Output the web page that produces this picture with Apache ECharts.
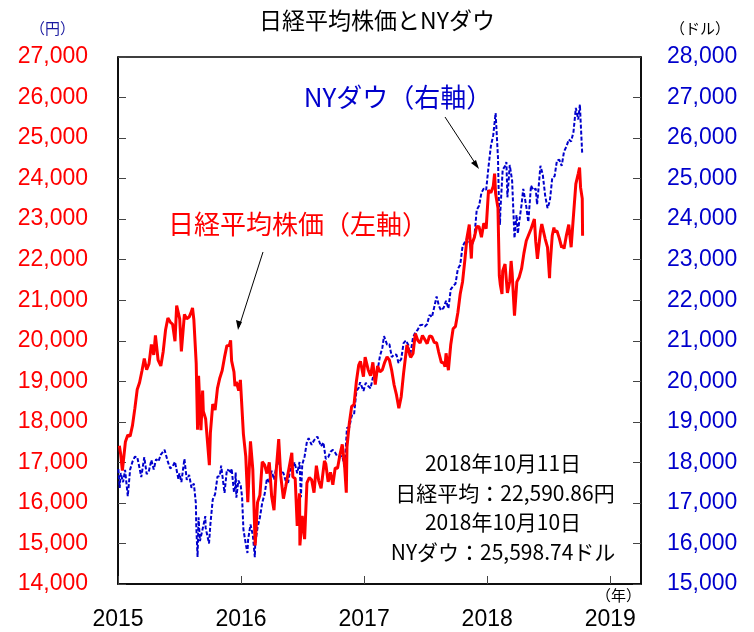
<!DOCTYPE html>
<html><head><meta charset="utf-8">
<script src="https://cdn.jsdelivr.net/npm/echarts@6/dist/echarts.min.js"></script>
<style>html,body{margin:0;padding:0;background:#fff}#c{width:754px;height:632px}</style>
</head><body><div id="c"></div>
<script>
// ---- Data ----
const nikkeiDates = ["2015-01-05","2015-01-09","2015-01-14","2015-01-23","2015-01-30","2015-02-06","2015-02-13","2015-02-20","2015-02-27","2015-03-06","2015-03-13","2015-03-20","2015-03-27","2015-04-03","2015-04-10","2015-04-17","2015-04-22","2015-04-30","2015-05-08","2015-05-15","2015-05-22","2015-05-29","2015-06-05","2015-06-12","2015-06-19","2015-06-24","2015-07-03","2015-07-08","2015-07-17","2015-07-24","2015-07-31","2015-08-07","2015-08-10","2015-08-14","2015-08-21","2015-08-25","2015-08-28","2015-09-04","2015-09-09","2015-09-11","2015-09-18","2015-09-29","2015-10-02","2015-10-09","2015-10-16","2015-10-23","2015-10-30","2015-11-06","2015-11-13","2015-11-20","2015-11-27","2015-12-01","2015-12-04","2015-12-11","2015-12-14","2015-12-18","2015-12-25","2015-12-30",
"2016-01-08","2016-01-15","2016-01-21","2016-01-29","2016-02-05","2016-02-12","2016-02-19","2016-02-26","2016-03-04","2016-03-11","2016-03-18","2016-03-25","2016-04-01","2016-04-08","2016-04-15","2016-04-22","2016-04-28","2016-05-06","2016-05-13","2016-05-20","2016-05-31","2016-06-03","2016-06-10","2016-06-16","2016-06-23","2016-06-24","2016-07-01","2016-07-08","2016-07-15","2016-07-22","2016-07-29","2016-08-05","2016-08-12","2016-08-19","2016-08-26","2016-09-05","2016-09-09","2016-09-16","2016-09-23","2016-09-30","2016-10-07","2016-10-14","2016-10-21","2016-10-28","2016-11-04","2016-11-09","2016-11-11","2016-11-18","2016-11-25","2016-12-02","2016-12-09","2016-12-16","2016-12-21","2016-12-30",
"2017-01-04","2017-01-13","2017-01-20","2017-01-27","2017-02-03","2017-02-10","2017-02-17","2017-02-24","2017-03-03","2017-03-10","2017-03-17","2017-03-24","2017-03-31","2017-04-07","2017-04-14","2017-04-17","2017-04-21","2017-04-28","2017-05-08","2017-05-12","2017-05-19","2017-05-26","2017-06-02","2017-06-09","2017-06-16","2017-06-23","2017-06-30","2017-07-07","2017-07-14","2017-07-21","2017-07-28","2017-08-04","2017-08-10","2017-08-18","2017-08-25","2017-08-29","2017-09-01","2017-09-08","2017-09-15","2017-09-22","2017-09-29","2017-10-06","2017-10-13","2017-10-20","2017-10-27","2017-11-02","2017-11-09","2017-11-10","2017-11-15","2017-11-17","2017-11-24","2017-12-01","2017-12-08","2017-12-15","2017-12-22","2017-12-29",
"2018-01-05","2018-01-12","2018-01-19","2018-01-23","2018-01-26","2018-02-02","2018-02-06","2018-02-09","2018-02-14","2018-02-16","2018-02-23","2018-03-02","2018-03-09","2018-03-13","2018-03-16","2018-03-23","2018-03-30","2018-04-06","2018-04-13","2018-04-20","2018-04-27","2018-05-02","2018-05-11","2018-05-18","2018-05-21","2018-05-25","2018-05-30","2018-06-01","2018-06-08","2018-06-12","2018-06-15","2018-06-22","2018-06-29","2018-07-05","2018-07-06","2018-07-13","2018-07-18","2018-07-20","2018-07-27","2018-08-03","2018-08-10","2018-08-14","2018-08-17","2018-08-24","2018-08-31","2018-09-07","2018-09-14","2018-09-21","2018-09-28","2018-10-02","2018-10-05","2018-10-10","2018-10-11"];
const nikkeiValues = [17408,17198,16795,17511,17674,17648,17913,18332,18798,18971,19254,19560,19286,19435,19908,19653,20133,19520,19379,19732,20264,20563,20461,20407,19990,20868,20539,19737,20650,20544,20585,20724,20808,20519,19435,17806,19136,17792,18770,18264,18070,16930,17725,18438,18291,18825,19083,19265,19596,19879,19883,20012,19504,19230,18883,18986,18769,19034,
17698,17147,16017,17518,16820,14953,16014,16188,17015,16938,16725,17002,16164,15821,16848,17572,16666,16106,16412,16736,17235,16642,16601,15434,16238,14952,15682,15106,16497,16627,16569,16254,16919,16545,16360,17037,16965,16519,16754,16449,16860,16856,17184,17446,16905,16251,17374,17968,18381,18426,18996,19401,19494,19114,
19594,19287,19137,19467,18918,19378,19234,19283,19469,19605,19522,19262,18909,18664,18335,18355,18620,19196,19895,19883,19590,19686,20177,20013,19943,20132,20033,19929,20118,20099,19959,19952,19729,19470,19452,19362,19691,19274,19909,20296,20356,20690,21155,21457,22008,22539,22868,22681,22028,22397,22550,22819,22811,22553,22902,22765,
23714,23653,23808,24124,23631,23274,21610,21383,21154,21720,21892,21182,21469,21968,21676,20617,21454,21568,21778,22162,22467,22508,22758,22930,23002,22450,22018,22171,22694,22878,22851,22516,22304,21546,21788,22597,22794,22697,22712,22525,22298,22356,22270,22601,22865,22307,23094,23869,24120,24270,23783,23506,22590.86];

const dowDates = ["2015-01-02","2015-01-06","2015-01-09","2015-01-16","2015-01-22","2015-01-30","2015-02-06","2015-02-13","2015-02-20","2015-02-27","2015-03-06","2015-03-11","2015-03-13","2015-03-20","2015-03-27","2015-04-02","2015-04-10","2015-04-17","2015-04-24","2015-05-01","2015-05-08","2015-05-19","2015-05-29","2015-06-05","2015-06-12","2015-06-19","2015-06-29","2015-07-02","2015-07-08","2015-07-17","2015-07-24","2015-07-31","2015-08-07","2015-08-14","2015-08-20","2015-08-21","2015-08-25","2015-08-28","2015-09-01","2015-09-04","2015-09-11","2015-09-17","2015-09-18","2015-09-28","2015-10-02","2015-10-09","2015-10-16","2015-10-23","2015-10-30","2015-11-03","2015-11-06","2015-11-13","2015-11-20","2015-11-27","2015-12-02","2015-12-04","2015-12-11","2015-12-14","2015-12-16","2015-12-18","2015-12-24","2015-12-31",
"2016-01-04","2016-01-08","2016-01-15","2016-01-20","2016-01-22","2016-01-29","2016-02-05","2016-02-11","2016-02-12","2016-02-19","2016-02-26","2016-03-04","2016-03-11","2016-03-18","2016-03-24","2016-04-01","2016-04-08","2016-04-15","2016-04-20","2016-04-29","2016-05-06","2016-05-13","2016-05-20","2016-05-27","2016-06-03","2016-06-08","2016-06-16","2016-06-23","2016-06-27","2016-07-01","2016-07-08","2016-07-15","2016-07-20","2016-07-29","2016-08-05","2016-08-15","2016-08-26","2016-09-02","2016-09-09","2016-09-16","2016-09-23","2016-09-30","2016-10-07","2016-10-14","2016-10-21","2016-10-28","2016-11-04","2016-11-11","2016-11-18","2016-11-25","2016-12-02","2016-12-09","2016-12-16","2016-12-20","2016-12-30",
"2017-01-06","2017-01-13","2017-01-20","2017-01-27","2017-02-03","2017-02-10","2017-02-17","2017-02-24","2017-03-01","2017-03-10","2017-03-17","2017-03-24","2017-03-31","2017-04-07","2017-04-13","2017-04-21","2017-04-28","2017-05-05","2017-05-12","2017-05-17","2017-05-26","2017-06-02","2017-06-09","2017-06-16","2017-06-23","2017-06-30","2017-07-07","2017-07-14","2017-07-21","2017-07-28","2017-08-04","2017-08-08","2017-08-11","2017-08-17","2017-08-25","2017-09-01","2017-09-08","2017-09-15","2017-09-22","2017-09-29","2017-10-06","2017-10-13","2017-10-20","2017-10-27","2017-11-03","2017-11-10","2017-11-17","2017-11-24","2017-12-01","2017-12-08","2017-12-15","2017-12-22","2017-12-29",
"2018-01-05","2018-01-12","2018-01-19","2018-01-26","2018-02-02","2018-02-05","2018-02-08","2018-02-09","2018-02-16","2018-02-23","2018-02-27","2018-03-02","2018-03-09","2018-03-16","2018-03-23","2018-03-29","2018-04-02","2018-04-06","2018-04-13","2018-04-18","2018-04-27","2018-05-03","2018-05-11","2018-05-18","2018-05-25","2018-05-29","2018-06-01","2018-06-08","2018-06-15","2018-06-22","2018-06-29","2018-07-06","2018-07-13","2018-07-20","2018-07-27","2018-08-03","2018-08-10","2018-08-17","2018-08-24","2018-08-31","2018-09-07","2018-09-14","2018-09-21","2018-09-28","2018-10-03","2018-10-05","2018-10-09","2018-10-10"];
const dowValues = [17833,17371,17737,17511,17813,17165,17824,18019,18140,18133,17856,17635,17749,18128,17713,17763,18058,17826,18080,18024,18191,18312,18011,17849,17899,18015,17596,17730,17515,18086,17568,17690,17373,17477,16990,16460,15666,16643,16058,16102,16433,16674,16384,16001,16472,17084,17215,17646,17664,17918,17910,17245,17824,17798,17729,17848,17265,17368,17749,17128,17553,17425,
17149,16346,15988,15766,16093,16466,16205,15660,15974,16392,16640,17007,17213,17602,17516,17793,17577,17898,18096,17774,17740,17535,17501,17873,17807,18005,17733,18011,17141,17949,18147,18517,18595,18432,18544,18637,18395,18492,18085,18124,18261,18308,18240,18138,18145,18161,17888,18847,18868,19152,19171,19757,19843,19975,19763,
19964,19886,19827,20094,20071,20269,20624,20822,21115,20903,20915,20597,20663,20656,20453,20548,20941,21007,20897,20607,21080,21206,21272,21384,21395,21350,21414,21638,21580,21830,22092,22085,21858,21750,21814,21988,21798,22268,22350,22405,22774,22872,23329,23434,23539,23422,23358,23558,24231,24329,24652,24754,24719,
25295,25803,26072,26616,25521,24346,23860,24191,25219,25310,25410,24538,25336,24947,23533,24103,23644,23933,24360,24748,24311,23930,24831,24715,24753,24362,24635,25317,25090,24581,24271,24456,25019,25058,25451,25463,25313,25669,25790,25965,25917,26155,26744,26458,26828,26447,26431,25598.74];

const yearTicks = [2015, 2016, 2017, 2018, 2019];
const leftTicks = [14000, 27000, 1000];   // min, max, step (円)
const rightTicks = [15000, 28000, 1000];  // min, max, step (ドル)

// ---- helpers ----
function toYear(s) {
  const d = new Date(s + "T00:00:00Z");
  const y = d.getUTCFullYear();
  const start = Date.UTC(y, 0, 1), end = Date.UTC(y + 1, 0, 1);
  return y + (d.getTime() - start) / (end - start);
}
function fmt(v) { return String(v).replace(/\B(?=(\d{3})+(?!\d))/g, ","); }
const nikkei = nikkeiDates.map((d, i) => [toYear(d), nikkeiValues[i]]);
const dow = dowDates.map((d, i) => [toYear(d), dowValues[i]]);

const RED = "#ff0000", BLUE = "#0000cc";
const NUMFONT = "'Liberation Sans', Arial, sans-serif";
const JPFONT = "'Noto Sans CJK JP', sans-serif";

const chart = echarts.init(document.getElementById("c"), null, { renderer: "canvas" });
chart.setOption({
  animation: false,
  backgroundColor: "#fff",
  title: {
    text: "日経平均株価とNYダウ", left: "center", top: 4,
    textStyle: { fontFamily: JPFONT, fontSize: 23, fontWeight: "normal", color: "#000" }
  },
  grid: { left: 118, right: 113, top: 57, bottom: 48, show: true, borderColor: "#000", borderWidth: 1.5 },
  xAxis: {
    type: "value", min: yearTicks[0], max: 2019.25, interval: 1,
    axisLine: { show: true, lineStyle: { color: "#000", width: 1.5 } },
    axisTick: { show: true, inside: true, length: 8, lineStyle: { color: "#444" } },
    splitLine: { show: false },
    axisLabel: {
      margin: 24, color: "#000", fontFamily: NUMFONT, fontSize: 23, showMaxLabel: false,
      formatter: v => (yearTicks.indexOf(Math.round(v * 1000) / 1000) >= 0 ? String(v) : "")
    }
  },
  yAxis: [
    {
      type: "value", position: "left", min: leftTicks[0], max: leftTicks[1], interval: leftTicks[2],
      axisLine: { show: true, lineStyle: { color: "#000", width: 1.5 } },
      axisTick: { show: true, inside: true, length: 8, lineStyle: { color: "#444" } },
      splitLine: { show: false },
      axisLabel: { margin: 30, color: RED, fontFamily: NUMFONT, fontSize: 23, formatter: fmt }
    },
    {
      type: "value", position: "right", min: rightTicks[0], max: rightTicks[1], interval: rightTicks[2],
      axisLine: { show: true, lineStyle: { color: "#000", width: 1.5 } },
      axisTick: { show: true, inside: true, length: 8, lineStyle: { color: "#444" } },
      splitLine: { show: false },
      axisLabel: { margin: 26, color: BLUE, fontFamily: NUMFONT, fontSize: 23, formatter: fmt }
    }
  ],
  series: [
    {
      name: "NYダウ", type: "line", yAxisIndex: 1, data: dow, showSymbol: false, symbol: "none",
      lineStyle: { color: BLUE, width: 2, type: [4, 2] }, z: 2
    },
    {
      name: "日経平均株価", type: "line", yAxisIndex: 0, data: nikkei, showSymbol: false, symbol: "none",
      lineStyle: { color: RED, width: 3 }, z: 3
    }
  ],
  graphic: [
    { type: "text", left: 30, top: 21, style: { text: "（円）", fill: "#1a1aa0", font: "15px " + JPFONT } },
    { type: "text", left: 670, top: 21, style: { text: "（ドル）", fill: "#000", font: "15px " + JPFONT } },
    { type: "text", left: 596, top: 588, style: { text: "（年）", fill: "#000", font: "15px " + JPFONT } },
    { type: "text", x: 398, y: 97, style: { text: "NYダウ（右軸）", fill: BLUE, font: "26px " + JPFONT, textAlign: "center", textVerticalAlign: "middle" } },
    { type: "text", x: 298, y: 224, style: { text: "日経平均株価（左軸）", fill: RED, font: "26px " + JPFONT, textAlign: "center", textVerticalAlign: "middle" } },
    { type: "line", shape: { x1: 263, y1: 252, x2: 239, y2: 327 }, style: { stroke: "#000", lineWidth: 1 } },
    { type: "polygon", shape: { points: [[238, 330], [236, 320], [242, 322]] }, style: { fill: "#000" } },
    { type: "line", shape: { x1: 445, y1: 117, x2: 477, y2: 166 }, style: { stroke: "#000", lineWidth: 1 } },
    { type: "polygon", shape: { points: [[479, 169], [471, 163], [476, 160]] }, style: { fill: "#000" } },
    { type: "text", x: 503, y: 463, style: { text: "2018年10月11日", fill: "#000", font: "21px " + JPFONT, textAlign: "center", textVerticalAlign: "middle" } },
    { type: "text", x: 505, y: 493, style: { text: "日経平均：22,590.86円", fill: "#000", font: "21px " + JPFONT, textAlign: "center", textVerticalAlign: "middle" } },
    { type: "text", x: 503, y: 522, style: { text: "2018年10月10日", fill: "#000", font: "21px " + JPFONT, textAlign: "center", textVerticalAlign: "middle" } },
    { type: "text", x: 503, y: 552, style: { text: "NYダウ：25,598.74ドル", fill: "#000", font: "21px " + JPFONT, textAlign: "center", textVerticalAlign: "middle" } }
  ]
});
</script>
</body></html>
